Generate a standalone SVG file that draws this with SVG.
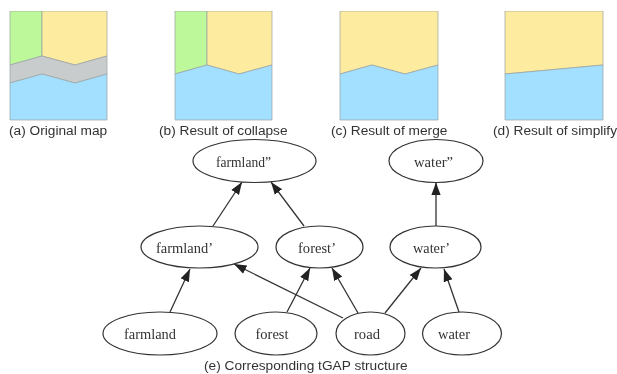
<svg xmlns="http://www.w3.org/2000/svg" width="617" height="374" viewBox="0 0 617 374">
<style>
.cap{font-family:"Liberation Sans",Arial,sans-serif;font-size:13.7px;fill:#333}
.lbl{font-family:"Liberation Serif","Times New Roman",serif;font-size:15px;fill:#333;text-anchor:middle}
.nd{fill:#fff;stroke:#333;stroke-width:1.2}
.e{stroke:#333;stroke-width:1.3;fill:none;marker-end:url(#ah)}
.g{fill:#bdf99b}.y{fill:#fdeb9f}.b{fill:#a3dffe}.r{fill:#c9cccc}
.f{stroke:#9aa0a0;stroke-width:.7}
</style>
<defs>
<marker id="ah" markerUnits="userSpaceOnUse" markerWidth="13" markerHeight="11" refX="12.5" refY="5" orient="auto"><path d="M0 .4L12.5 5L0 9.6Z" fill="#222"/></marker>
<filter id="soft" x="0" y="0" width="100%" height="100%"><feGaussianBlur stdDeviation="0.35"/></filter>
</defs>
<rect width="617" height="374" fill="#fff"/>
<g filter="url(#soft)">
<g id="maps">
<g id="map-a">
<path class="g f" d="M10 11H42V56L10 65Z"/><path class="y f" d="M42 11H107V56L75 65L42 56Z"/>
<path class="r f" d="M10 65L42 56L75 65L107 56V74L75 83L42 74L10 83Z"/><path class="b f" d="M10 83L42 74L75 83L107 74V120H10Z"/>
<text class="cap" x="9" y="134.500">(a) Original map</text></g>
<g id="map-b">
<path class="g f" d="M175 11H207V65L175 74Z"/><path class="y f" d="M207 11H272V65L239 74L207 65Z"/>
<path class="b f" d="M175 74L207 65L239 74L272 65V120H175Z"/>
<text class="cap" x="159" y="134.500">(b) Result of collapse</text></g>
<g id="map-c">
<path class="y f" d="M340 11H438V65L405 74L372 65L340 74Z"/><path class="b f" d="M340 74L372 65L405 74L438 65V120H340Z"/>
<text class="cap" x="331" y="134.500">(c) Result of merge</text></g>
<g id="map-d">
<path class="y f" d="M505 11H603V65L505 74Z"/><path class="b f" d="M505 74L603 65V120H505Z"/>
<text class="cap" x="493" y="134.500">(d) Result of simplify</text></g>
</g>
<g id="connectors">
<path class="e" d="M213 226L242 182"/>
<path class="e" d="M304 226L271 182"/>
<path class="e" d="M436 226V182.500"/>
<path class="e" d="M170 312L190 269"/>
<path class="e" d="M287 312L310 268"/>
<path class="e" d="M343 318L234 264"/>
<path class="e" d="M358 313L332 268"/>
<path class="e" d="M385 313L421 268"/>
<path class="e" d="M459 312L444 269"/>
</g>
<g id="n-farmland2"><ellipse class="nd" cx="254.500" cy="161" rx="61.500" ry="21.500"/><text class="lbl" x="243.500" y="166.500" textLength="55" lengthAdjust="spacingAndGlyphs">farmland”</text></g>
<g id="n-water2"><ellipse class="nd" cx="436" cy="161" rx="47" ry="21.500"/><text class="lbl" x="433.500" y="166.500" textLength="39" lengthAdjust="spacingAndGlyphs">water”</text></g>
<g id="n-farmland1"><ellipse class="nd" cx="199.500" cy="247" rx="58.500" ry="21"/><text class="lbl" x="184.500" y="252.500" textLength="57" lengthAdjust="spacingAndGlyphs">farmland’</text></g>
<g id="n-forest1"><ellipse class="nd" cx="319.500" cy="247" rx="43.500" ry="21"/><text class="lbl" x="317" y="252.500" textLength="38" lengthAdjust="spacingAndGlyphs">forest’</text></g>
<g id="n-water1"><ellipse class="nd" cx="435.500" cy="247" rx="45.500" ry="21"/><text class="lbl" x="431.500" y="252.500" textLength="37" lengthAdjust="spacingAndGlyphs">water’</text></g>
<g id="n-farmland"><ellipse class="nd" cx="160" cy="333.500" rx="57" ry="21.500"/><text class="lbl" x="150" y="338.500" textLength="52" lengthAdjust="spacingAndGlyphs">farmland</text></g>
<g id="n-forest"><ellipse class="nd" cx="276" cy="333.500" rx="41" ry="21.500"/><text class="lbl" x="272" y="338.500" textLength="33" lengthAdjust="spacingAndGlyphs">forest</text></g>
<g id="n-road"><ellipse class="nd" cx="370.500" cy="333.500" rx="34.500" ry="21.500"/><text class="lbl" x="367" y="338.500" textLength="26" lengthAdjust="spacingAndGlyphs">road</text></g>
<g id="n-water"><ellipse class="nd" cx="462" cy="333.500" rx="39.500" ry="21.500"/><text class="lbl" x="454" y="338.500" textLength="32" lengthAdjust="spacingAndGlyphs">water</text></g>
<text id="caption-e" class="cap" x="204" y="370">(e) Corresponding tGAP structure</text>
</g>
</svg>
